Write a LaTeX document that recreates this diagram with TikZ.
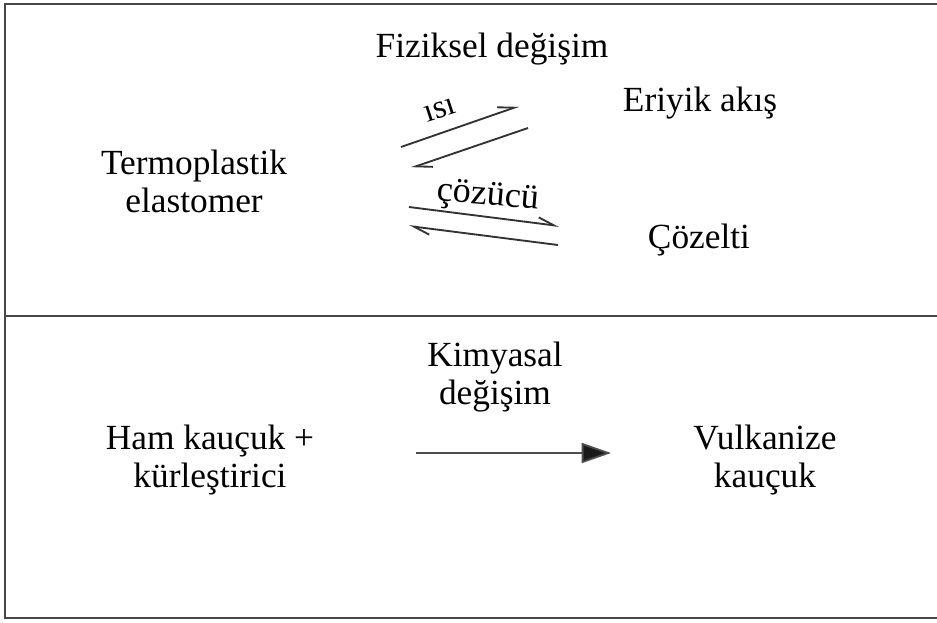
\documentclass[tikz,border=0pt]{standalone}
\usepackage{fontspec}
\setmainfont{Liberation Serif}
\usetikzlibrary{arrows.meta}
\begin{document}
\begin{tikzpicture}[x=0.75pt,y=-0.75pt,
  frame/.style={line width=1.7pt,draw=black!72},
  lbl/.style={font=\fontsize{26.5}{28}\selectfont,align=center,inner sep=0pt},
  harp/.style={line width=1.4pt,draw=black!80,-{Straight Barb[harpoon,length=12pt,width=9pt,line width=1.4pt]}},
  mainarrow/.style={line width=1.4pt,draw=black!70,-{Triangle[length=22pt,width=15pt,fill=black!90]}}]
\useasboundingbox (0,0) rectangle (937,622);
% frame
\coordinate (tl) at (5,4);
\coordinate (tr) at (937,4);
\coordinate (bl) at (5,618);
\coordinate (br) at (937,618);
\coordinate (ml) at (5,316);
\coordinate (mr) at (937,316);
\draw[frame] (tr) -- (tl) -- (bl) -- (br);
\draw[frame] (ml) -- (mr);
% texts
\node[lbl,anchor=base] (fiz) at (492,57) {Fiziksel değişim};
\node[lbl,anchor=base] (eri) at (700,111) {Eriyik akış};
\node[lbl,anchor=base] (tpe) at (194,212) {Termoplastik\\elastomer};
\node[lbl,anchor=base] (coz) at (699,248) {Çözelti};
\node[lbl,anchor=base] (kim) at (495,404) {Kimyasal\\değişim};
\node[lbl,anchor=base] (ham) at (210,487) {Ham kauçuk +\\kürleştirici};
\node[lbl,anchor=base] (vul) at (765,487) {Vulkanize\\kauçuk};
% harpoons
\coordinate (h1s) at (401,147);
\coordinate (h1e) at (519,106);
\coordinate (h2s) at (528,128);
\coordinate (h2e) at (411,168);
\coordinate (h3s) at (409,207);
\coordinate (h3e) at (559,226);
\coordinate (h4s) at (558,245);
\coordinate (h4e) at (409,226);
\draw[harp] (h1s) -- (h1e);
\draw[harp] (h2s) -- (h2e);
\draw[harp] (h3s) -- (h3e);
\draw[harp] (h4s) -- (h4e);
\node[font=\fontsize{25}{28}\selectfont,rotate=18,inner sep=0pt] (isi) at (440,110) {ısı};
\node[font=\fontsize{27}{30}\selectfont,rotate=-5,inner sep=0pt] (cozucu) at (488,197) {çözücü};
% main arrow
\coordinate (a1) at (416,453);
\coordinate (a2) at (611,453);
\draw[mainarrow] (a1) -- (a2);
\end{tikzpicture}
\end{document}
